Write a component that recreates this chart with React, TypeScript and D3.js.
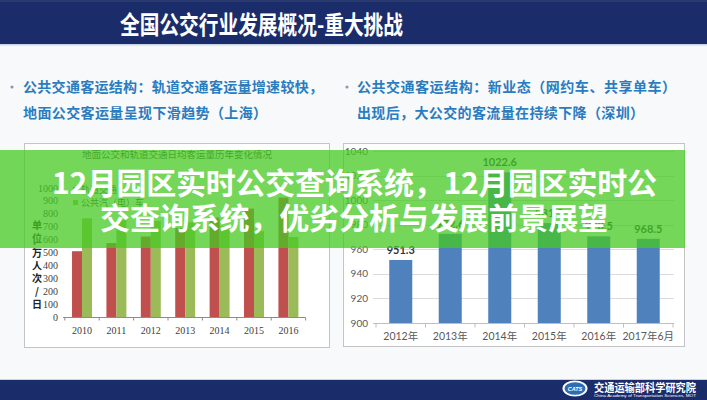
import React from 'react';
import * as d3 from 'd3';

// ---------- data ----------
const headerTitle = '全国公交行业发展概况-重大挑战';
const leftBulletLines = ['公共交通客运结构：轨道交通客运量增速较快，', '地面公交客运量呈现下滑趋势（上海）'];
const rightBulletLines = ['公共交通客运结构：新业态（网约车、共享单车）', '出现后，大公交的客流量在持续下降（深圳）'];
const bannerLines = ['12月园区实时公交查询系统，12月园区实时公', '交查询系统，优劣分析与发展前景展望'];

const leftChartTitle = '地面公交和轨道交通日均客运量历年变化情况';
const leftYears = ['2010', '2011', '2012', '2013', '2014', '2015', '2016'];
const leftSeriesNames = ['轨道交通', '公共汽（电）车'];
const railValues = [510, 573, 624, 690, 771, 840, 926];
const busValues = [765, 750, 745, 735, 705, 665, 620];
const leftYTicks = [0, 100, 200, 300, 400, 500, 600, 700, 800, 900, 1000];
const leftYTitle = ['单', '位', '：', '万', '人', '次', '/', '日'];

const rightCategories = ['2012年', '2013年', '2014年', '2015年', '2016年', '2017年6月'];
const rightValues = [951.3, 972.6, 1022.6, 981.3, 970.5, 968.5];
const rightYTicks = [900, 920, 940, 960, 980, 1000, 1020, 1040];

const footerCn = '交通运输部科学研究院';
const footerEn = 'China Academy of Transportation Sciences, MOT';

// ---------- styles ----------
const NAVY = '#1b2c6b';
const BLUE_TEXT = '#2a7cc0';
const RED = '#c0504d';
const GREEN = '#9bbb59';
const BAR_BLUE = '#4f81bd';
const CJK = "'Noto Sans CJK SC', 'Noto Sans', sans-serif";
const SERIF = "'Liberation Serif', 'DejaVu Serif', 'Noto Sans CJK SC', serif";
const SANS = "Lato, 'Noto Sans CJK SC', sans-serif";

export default function App() {
  // left chart scales
  const xL = d3.scaleBand<string>().domain(leftYears).range([64.8, 305.6]).paddingInner(0.42).paddingOuter(0.21);
  const xSub = d3.scaleBand<string>().domain(['rail', 'bus']).range([0, xL.bandwidth()]);
  const yL = d3.scaleLinear().domain([0, 1000]).range([317, 188]);

  // right chart scales
  const xR = d3.scaleBand<string>().domain(rightCategories).range([376, 673]).paddingInner(0.535).paddingOuter(0.2675);
  const yR = d3.scaleLinear().domain([900, 1040]).range([323, 151]);

  const leftBoundaries = leftYears.map((d) => (xL(d) as number) - (xL.step() - xL.bandwidth()) / 2).concat([305.6]);
  const rightBoundaries = rightCategories.map((d) => (xR(d) as number) - (xR.step() - xR.bandwidth()) / 2).concat([673]);

  return (
    <svg width={707} height={400} style={{ position: 'absolute', left: 0, top: 0, display: 'block' }}>
      {/* page background */}
      <rect x={0} y={0} width={707} height={400} fill="#f8f9fb" />

      {/* header */}
      <rect x={0} y={0} width={707} height={44} fill={NAVY} />
      <rect x={0} y={0} width={707} height={2} fill="#2b3a6e" />
      <rect x={0} y={44} width={707} height={1.5} fill="#c9d3e6" />
      <text x={120} y={34} fontFamily={CJK} fontWeight={700} fontSize={25} fill="#fff" textLength={283} lengthAdjust="spacingAndGlyphs">
        {headerTitle}
      </text>

      {/* bullets */}
      <circle cx={12} cy={87} r={1.6} fill="#8a9bb0" />
      <circle cx={347} cy={87} r={1.6} fill="#8a9bb0" />
      {leftBulletLines.map((t, i) => (
        <text key={'lb' + i} x={23} y={92 + i * 26} fontFamily={CJK} fontWeight={700} fontSize={14} fill={BLUE_TEXT}
          textLength={i === 0 ? 300 : 244} lengthAdjust="spacing">{t}</text>
      ))}
      {rightBulletLines.map((t, i) => (
        <text key={'rb' + i} x={357} y={92 + i * 26} fontFamily={CJK} fontWeight={700} fontSize={14} fill={BLUE_TEXT}
          textLength={i === 0 ? 319 : 287} lengthAdjust="spacing">{t}</text>
      ))}

      {/* left chart box */}
      <rect x={24.5} y={143.5} width={305} height={204} fill="#fff" stroke="#c4c4c4" strokeWidth={1} />
      <text x={177} y={158} textAnchor="middle" fontFamily={SERIF} fontSize={9.5} fill="#404040">{leftChartTitle}</text>
      {/* legend */}
      {leftSeriesNames.map((n, i) => (
        <g key={'lg' + i}>
          <rect x={73} y={187 + i * 13} width={5} height={5} fill={i === 0 ? RED : GREEN} />
          <text x={81} y={193 + i * 13} fontFamily={SERIF} fontSize={9} fill="#404040">{n}</text>
        </g>
      ))}
      {/* y labels */}
      {leftYTicks.map((t) => (
        <text key={'ly' + t} x={58} y={yL(t) + 3.5} textAnchor="end" fontFamily={SERIF} fontSize={10} fill="#404040">{t}</text>
      ))}
      {leftYTitle.map((c, i) => (
        <text key={'lt' + i} x={37} y={[229, 242, 250, 257, 270, 282, 295, 308][i]} textAnchor="middle" fontFamily={CJK}
          fontWeight={700} fontSize={10} fill="#222">{c}</text>
      ))}
      {/* bars */}
      {leftYears.map((yr, i) => (
        <g key={'lbar' + yr}>
          <rect x={(xL(yr) as number) + (xSub('rail') as number)} y={yL(railValues[i])} width={xSub.bandwidth()}
            height={yL(0) - yL(railValues[i])} fill={RED} />
          <rect x={(xL(yr) as number) + (xSub('bus') as number)} y={yL(busValues[i])} width={xSub.bandwidth()}
            height={yL(0) - yL(busValues[i])} fill={GREEN} />
        </g>
      ))}
      {/* x axis */}
      <line x1={63} x2={305.6} y1={317.5} y2={317.5} stroke="#8c8c8c" strokeWidth={1} />
      {leftBoundaries.map((b, i) => (
        <line key={'lt' + i} x1={b} x2={b} y1={317.5} y2={320.5} stroke="#8c8c8c" strokeWidth={1} />
      ))}
      {leftYears.map((yr) => (
        <text key={'lx' + yr} x={(xL(yr) as number) + xL.bandwidth() / 2} y={333.5} textAnchor="middle" fontFamily={SERIF}
          fontSize={10} fill="#404040">{yr}</text>
      ))}

      {/* right chart box */}
      <rect x={343.5} y={143.5} width={341} height={203} fill="#fff" stroke="#c4c4c4" strokeWidth={1} />
      {rightYTicks.map((t) => (
        <g key={'ry' + t}>
          <line x1={373} x2={674} y1={Math.round(yR(t)) + 0.5} y2={Math.round(yR(t)) + 0.5} stroke={t === 900 ? '#bfbfbf' : '#dcdcdc'} strokeWidth={1} />
          <text x={368} y={yR(t) + 3.5} textAnchor="end" fontFamily={SANS} fontSize={10} fill="#595959">{t}</text>
        </g>
      ))}
      {rightBoundaries.map((b, i) => (
        <line key={'rt' + i} x1={b} x2={b} y1={323.5} y2={327.5} stroke="#bfbfbf" strokeWidth={1} />
      ))}
      {rightCategories.map((c, i) => (
        <g key={'rbar' + c}>
          <rect x={xR(c)} y={yR(rightValues[i])} width={xR.bandwidth()} height={yR(900) - yR(rightValues[i])} fill={BAR_BLUE} />
          <text x={(xR(c) as number) + xR.bandwidth() / 2} y={yR(rightValues[i]) - 6} textAnchor="middle" fontFamily={SANS}
            fontWeight={700} fontSize={11} fill="#333">{rightValues[i].toFixed(1)}</text>
          <text x={(xR(c) as number) + xR.bandwidth() / 2} y={340} textAnchor="middle" fontFamily={SANS} fontSize={10.5}
            fill="#595959">{c}</text>
        </g>
      ))}

      {/* green banner overlay */}
      <rect x={0} y={150} width={685} height={98} fill="rgb(70,202,35)" opacity={0.75} />
      {bannerLines.map((t, i) => (
        <text key={'bn' + i} x={i === 0 ? 52 : 100} y={i === 0 ? 194 : 229} fontFamily={CJK} fontWeight={700} fontSize={30}
          fill="#fff" textLength={i === 0 ? 605 : 508} lengthAdjust="spacing">{t}</text>
      ))}

      {/* footer */}
      <rect x={0} y={379} width={707} height={1.5} fill="#c9d3e6" />
      <rect x={0} y={380} width={707} height={20} fill={NAVY} />
      <ellipse cx={575} cy={388.5} rx={12.5} ry={8} fill="#fff" />
      <ellipse cx={575} cy={388.5} rx={10.5} ry={6.3} fill="#2f6db5" />
      <text x={575} y={390.5} textAnchor="middle" fontFamily="Liberation Sans" fontStyle="italic" fontWeight={700} fontSize={5.5}
        fill="#fff">CATS</text>
      <text x={594} y={391.5} fontFamily={CJK} fontWeight={700} fontSize={11.5} fill="#fff" textLength={102} lengthAdjust="spacingAndGlyphs">{footerCn}</text>
      <text x={594} y={397} fontFamily="Liberation Sans" fontSize={3.6} fill="#fff" textLength={102} lengthAdjust="spacingAndGlyphs">{footerEn}</text>
    </svg>
  );
}
